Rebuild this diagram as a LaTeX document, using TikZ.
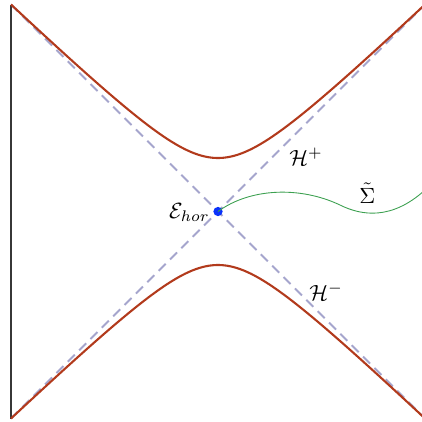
\documentclass[tikz,border=0pt]{standalone}
\usetikzlibrary{calc}
\definecolor{hypred}{RGB}{178,58,28}
\definecolor{nullgray}{RGB}{165,165,205}
\definecolor{sigmagreen}{RGB}{60,160,80}
\definecolor{dotblue}{RGB}{10,50,250}
\definecolor{edgegray}{RGB}{55,55,55}
\tikzset{
  hyper/.style={draw=hypred,line width=0.95pt},
  nullline/.style={draw=nullgray,line width=0.85pt,dash pattern=on 4.5pt off 2.8pt},
  edge/.style={draw=edgegray,line width=0.9pt},
  slice/.style={draw=sigmagreen,line width=0.4pt},
  lbl/.style={inner sep=0pt}
}
\begin{document}
\begin{tikzpicture}[x=0.4545pt,y=-0.4545pt]
\useasboundingbox (0,0) rectangle (422,421);
\clip (0,0) rectangle (422,421);
% corners
\coordinate (TL) at (11,4.5);
\coordinate (BL) at (11,418.5);
\coordinate (TR) at (425,4.5);
\coordinate (BR) at (425,418.5);
% null lines
\draw[nullline] (TL) -- (BR);
\draw[nullline] (BL) -- (TR);
% left boundary
\draw[edge] (TL) -- (BL);
% hyperbolas
\draw[hyper] plot[domain=-2.07:2.07,samples=120,smooth]
  ({218+100*\x},{211.5-100*sqrt(0.9332*\x*\x+0.286225)});
\draw[hyper] plot[domain=-2.07:2.07,samples=120,smooth]
  ({218+100*\x},{211.5+100*sqrt(0.9332*\x*\x+0.286225)});
% slice
\coordinate (mid) at (340,205);
\coordinate (send) at (425,190);
\node[circle,fill=dotblue,inner sep=0pt,minimum size=4.2pt] (dot) at (218,211.5) {};
\draw[slice] (dot.center) .. controls (250,188) and (300,186) .. (mid)
  .. controls (362,216) and (392,220) .. (send);
% labels
\node[lbl,anchor=base east] (E) at (210,218.5) {$\mathcal{E}_{hor}$};
\node[lbl,anchor=base west] (Hp) at (289,165) {$\mathcal{H}^{+}$};
\node[lbl,anchor=base west] (Hm) at (309,300.5) {$\mathcal{H}^{-}$};
\node[lbl,anchor=base west] (S) at (359,203.5) {$\tilde{\Sigma}$};
\end{tikzpicture}
\end{document}
